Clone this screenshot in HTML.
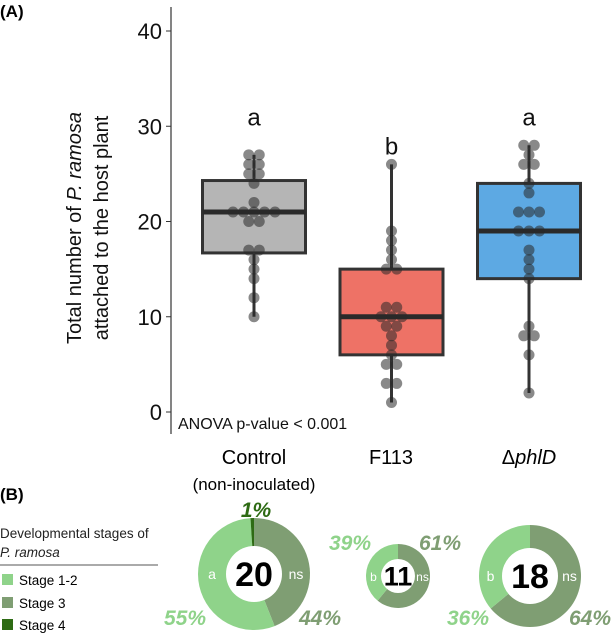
<!DOCTYPE html>
<html><head><meta charset="utf-8"><style>
body{margin:0;background:#fff;}
svg{display:block;font-family:"Liberation Sans",sans-serif;}
</style></head><body>
<svg id="chart" width="616" height="633" viewBox="0 0 616 633" xmlns="http://www.w3.org/2000/svg">
<text x="0" y="17" font-size="17" font-weight="bold">(A)</text>
<text x="0" y="500" font-size="17" font-weight="bold">(B)</text>
<line x1="171" y1="7" x2="171" y2="434" stroke="#333" stroke-width="1.2"/>
<g id="yticks"></g>
<text transform="translate(81,228) rotate(-90)" font-size="20" text-anchor="middle" fill="#111">Total number of <tspan font-style="italic">P. ramosa</tspan></text>
<text transform="translate(108,228) rotate(-90)" font-size="20" text-anchor="middle" fill="#111">attached to the host plant</text>
<g id="boxes"></g>
<text x="178" y="429" font-size="16" fill="#111">ANOVA p-value &lt; 0.001</text>
<text x="254" y="464" font-size="20" text-anchor="middle">Control</text>
<text x="254" y="490" font-size="17" text-anchor="middle">(non-inoculated)</text>
<text x="391" y="464" font-size="20" text-anchor="middle">F113</text>
<text x="529" y="464" font-size="20" text-anchor="middle">Δ<tspan font-style="italic">phlD</tspan></text>
<text x="0" y="538" font-size="13.5" fill="#222">Developmental stages of</text>
<text x="0" y="557" font-size="13.5" font-style="italic" fill="#222">P. ramosa</text>
<line x1="0" y1="565" x2="158" y2="565" stroke="#555" stroke-width="1"/>
<g><rect x="2" y="574" width="11" height="11" fill="#8fd38a"/><text x="19" y="585" font-size="13.5">Stage 1-2</text></g>
<g><rect x="2" y="597" width="11" height="11" fill="#7f9e73"/><text x="19" y="608" font-size="13.5">Stage 3</text></g>
<g><rect x="2" y="619" width="11" height="11" fill="#2e6b14"/><text x="19" y="630" font-size="13.5">Stage 4</text></g>
<g id="donuts"></g>
</svg>
<script>
const groups = ["Control", "F113", "phlD"];
const boxQ1 = [16.7, 6, 14];
const boxMedian = [21, 10, 19];
const boxQ3 = [24.3, 15, 24];
const whiskerLow = [10, 1, 2];
const whiskerHigh = [27, 26, 28];
const boxColors = ["#b5b5b5", "#ee7266", "#5da9e3"];
const sigLetters = ["a", "b", "a"];
const letterValues = [31, 28, 31];
const pointsControl = [27,27,26,26,25,25,24,22,21,21,21,21,21,20,20,17,17,16,15,14,12,10];
const pointsF113 = [26,19,18,17,16,15,15,11,11,10,10,10,9,9,8,7,6,5,5,3,3,1];
const pointsPhlD = [28,28,27,26,26,24,23,21,21,21,19,19,19,17,16,15,14,9,8,8,6,2];
const yTicks = [0, 10, 20, 30, 40];
const stageShares = [[55, 44, 1], [39, 61, 0], [36, 64, 0]];
const donutTotals = [20, 11, 18];
const donutLetters = ["a", "b", "b"];

const NS = "http://www.w3.org/2000/svg";
const y = v => 412 - 9.525 * v;
const xc = i => 254 + i * 137.5;
function mk(tag, attrs, parent){const e=document.createElementNS(NS,tag);for(const k in attrs)e.setAttribute(k,attrs[k]);parent.appendChild(e);return e;}

const yt = document.getElementById('yticks');
yTicks.forEach(t=>{
  const l = mk('line',{x1:166,x2:171,y1:y(t),y2:y(t),stroke:'#333'},yt);
  
  
  const tx = mk('text',{x:162,y:y(t)+8,'font-size':22,'text-anchor':'end',fill:'#111'},yt);
  tx.textContent = t;
  
  
});

const bg = document.getElementById('boxes');
const pts = [pointsControl, pointsF113, pointsPhlD];
groups.forEach((g,i)=>{
  const cx = xc(i), hw = 51.5;
  const grp = mk('g',{},bg);
  
  
  mk('line',{x1:cx,x2:cx,y1:y(whiskerLow[i]),y2:y(whiskerHigh[i]),stroke:'#333','stroke-width':3},grp);
  mk('rect',{x:cx-hw,y:y(boxQ3[i]),width:hw*2,height:y(boxQ1[i])-y(boxQ3[i]),fill:boxColors[i],stroke:'#333','stroke-width':3},grp);
  mk('line',{x1:cx-hw,x2:cx+hw,y1:y(boxMedian[i]),y2:y(boxMedian[i]),stroke:'#2a2a2a','stroke-width':5},grp);
  const counts = {};
  pts[i].forEach(v=>counts[v]=(counts[v]||0)+1);
  const seen = {};
  pts[i].forEach(v=>{
    const n = counts[v], k = seen[v]=(seen[v]||0);
    seen[v]++;
    const off = (k-(n-1)/2)*10.5;
    const c = mk('circle',{cx:cx+off,cy:y(v),r:5.5,fill:'rgba(40,40,40,0.55)'},grp);
    
    
  });
  const lt = mk('text',{x:cx,y:y(letterValues[i])+9,'font-size':24,'text-anchor':'middle',fill:'#111'},grp);
  lt.textContent = sigLetters[i];
  
  
});

const dg = document.getElementById('donuts');
const cols = ["#8fd38a","#7f9e73","#2e6b14"];
// layout (pixels): center x, center y, outer r, inner r, number font size
const layout = [
  {cx:254, cy:574, r:56, ir:28, fs:34, lx:[185,320], ly:625, p4y:517},
  {cx:398, cy:576, r:32, ir:17, fs:27, lx:[350,440], ly:550},
  {cx:530, cy:576, r:51, ir:28, fs:34, lx:[468,590], ly:625}
];
function pt(cx,cy,r,f){const a=2*Math.PI*f;return [cx+r*Math.sin(a), cy-r*Math.cos(a)];}
stageShares.forEach((sh,i)=>{
  const L = layout[i], cx=L.cx, cy=L.cy, r=L.r, ir=L.ir;
  const grp = mk('g',{},dg);
  
  
  const order = [[1, sh[1]], [0, sh[0]], [2, sh[2]]];
  let acc = 0;
  const tot = sh[0]+sh[1]+sh[2];
  order.forEach(([si,val])=>{
    if(val<=0) return;
    const f0 = acc/tot, f1 = (acc+val)/tot; acc += val;
    const [x0,y0]=pt(cx,cy,r,f0),[x1,y1]=pt(cx,cy,r,f1);
    const large = (f1-f0)>0.5?1:0;
    const p = mk('path',{d:`M${cx},${cy} L${x0},${y0} A${r},${r} 0 ${large} 1 ${x1},${y1} Z`,fill:cols[si]},grp);
    
    
  });
  mk('circle',{cx:cx,cy:cy,r:ir,fill:'#fff'},grp);
  const t = mk('text',{x:cx,y:cy+L.fs*0.36,'font-size':L.fs,'font-weight':'bold','text-anchor':'middle'},grp);
  t.textContent = donutTotals[i];
  
  
  const fsm = i===1?12:14;
  const la = mk('text',{x:cx-(ir+r)/2,y:cy+5,'font-size':fsm,'text-anchor':'middle',fill:'#fff'},grp);
  la.textContent = donutLetters[i];
  
  
  const ns = mk('text',{x:cx+(ir+r)/2,y:cy+5,'font-size':fsm,'text-anchor':'middle',fill:'#fff'},grp);
  ns.textContent = 'ns';
  
  
  const pl = mk('text',{x:L.lx[0],y:L.ly,'font-size':21,'font-style':'italic','font-weight':'bold','text-anchor':'middle',fill:cols[0]},grp);
  pl.textContent = sh[0]+'%';
  
  
  const pr = mk('text',{x:L.lx[1],y:L.ly,'font-size':21,'font-style':'italic','font-weight':'bold','text-anchor':'middle',fill:cols[1]},grp);
  pr.textContent = sh[1]+'%';
  
  
  if(sh[2]>0){
    const p4 = mk('text',{x:cx+2,y:L.p4y,'font-size':21,'font-style':'italic','font-weight':'bold','text-anchor':'middle',fill:cols[2]},grp);
    p4.textContent = sh[2]+'%';
    
    
  }
});
</script>
</body></html>
